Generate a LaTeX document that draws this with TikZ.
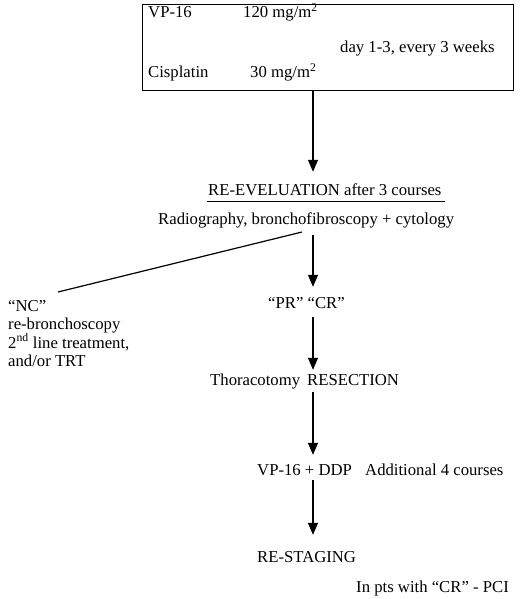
\documentclass[tikz,border=0pt]{standalone}
\usepackage{fontspec}
\setmainfont{Liberation Serif}
\usetikzlibrary{arrows.meta}
\begin{document}
\begin{tikzpicture}[x=1pt,y=-1pt,
  txt/.style={inner sep=0pt,anchor=base west,text height=12pt,text depth=4pt,font=\fontsize{16.7}{20}\selectfont},
  arr/.style={line width=1.2pt,-{Triangle[width=10pt,length=12pt]}},
  conn/.style={line width=1.2pt}]
\useasboundingbox[fill=white] (0,0) rectangle (520,599);
\coordinate (ax) at (313,0);
% top box
\node[draw,line width=1.1pt,minimum width=371pt,minimum height=86pt,anchor=north west,inner sep=0pt] (box) at (142,4) {};
\node[txt] (vp) at (148,18) {VP-16};
\node[txt] (vpd) at (243,18) {120 mg/m\textsuperscript{2}};
\node[txt] (days) at (340,53) {day 1-3, every 3 weeks};
\node[txt] (cis) at (148,78) {Cisplatin};
\node[txt] (cisd) at (250,78) {30 mg/m\textsuperscript{2}};
% re-evaluation
\node[txt] (reeval) at (208,195) {RE-EVELUATION after 3 courses};
\draw[line width=0.9pt] ([xshift=-1pt,yshift=-6pt]reeval.base west) -- ([xshift=3pt,yshift=-6pt]reeval.base east);
\node[txt] (radio) at (158,224) {Radiography, bronchofibroscopy + cytology};
% NC branch
\node[txt] (nc1) at (8,311) {“NC”};
\node[txt] (nc2) at (8,329) {re-bronchoscopy};
\node[txt] (nc3) at (8,348) {2\textsuperscript{nd} line treatment,};
\node[txt] (nc4) at (8,366) {and/or TRT};
\coordinate (lstart) at (302,232);
\coordinate (lend) at (58,292);
\draw[conn] (lstart) -- (lend);
% main flow
\node[txt] (prcr) at (268,308) {“PR” “CR”};
\node[txt] (thor) at (210,385) {Thoracotomy};
\node[txt] (resec) at (307,385) {RESECTION};
\node[txt] (vpddp) at (257,475) {VP-16 + DDP};
\node[txt] (addl) at (365,475) {Additional 4 courses};
\node[txt] (restag) at (257,562) {RE-STAGING};
\node[txt] (pci) at (356,592) {In pts with “CR” - PCI};
% arrows
\draw[arr,shorten >=11pt] (box.south -| ax) -- (reeval.north -| ax);
\draw[arr,shorten <=7pt,shorten >=9pt] (radio.south -| ax) -- (prcr.north -| ax);
\draw[arr,shorten <=5pt,shorten >=3pt] (prcr.south -| ax) -- (resec.north -| ax);
\draw[arr,shorten <=3pt,shorten >=8pt] (resec.south -| ax) -- (vpddp.north -| ax);
\draw[arr,shorten <=1pt,shorten >=15pt] (vpddp.south -| ax) -- (restag.north -| ax);
\end{tikzpicture}
\end{document}
